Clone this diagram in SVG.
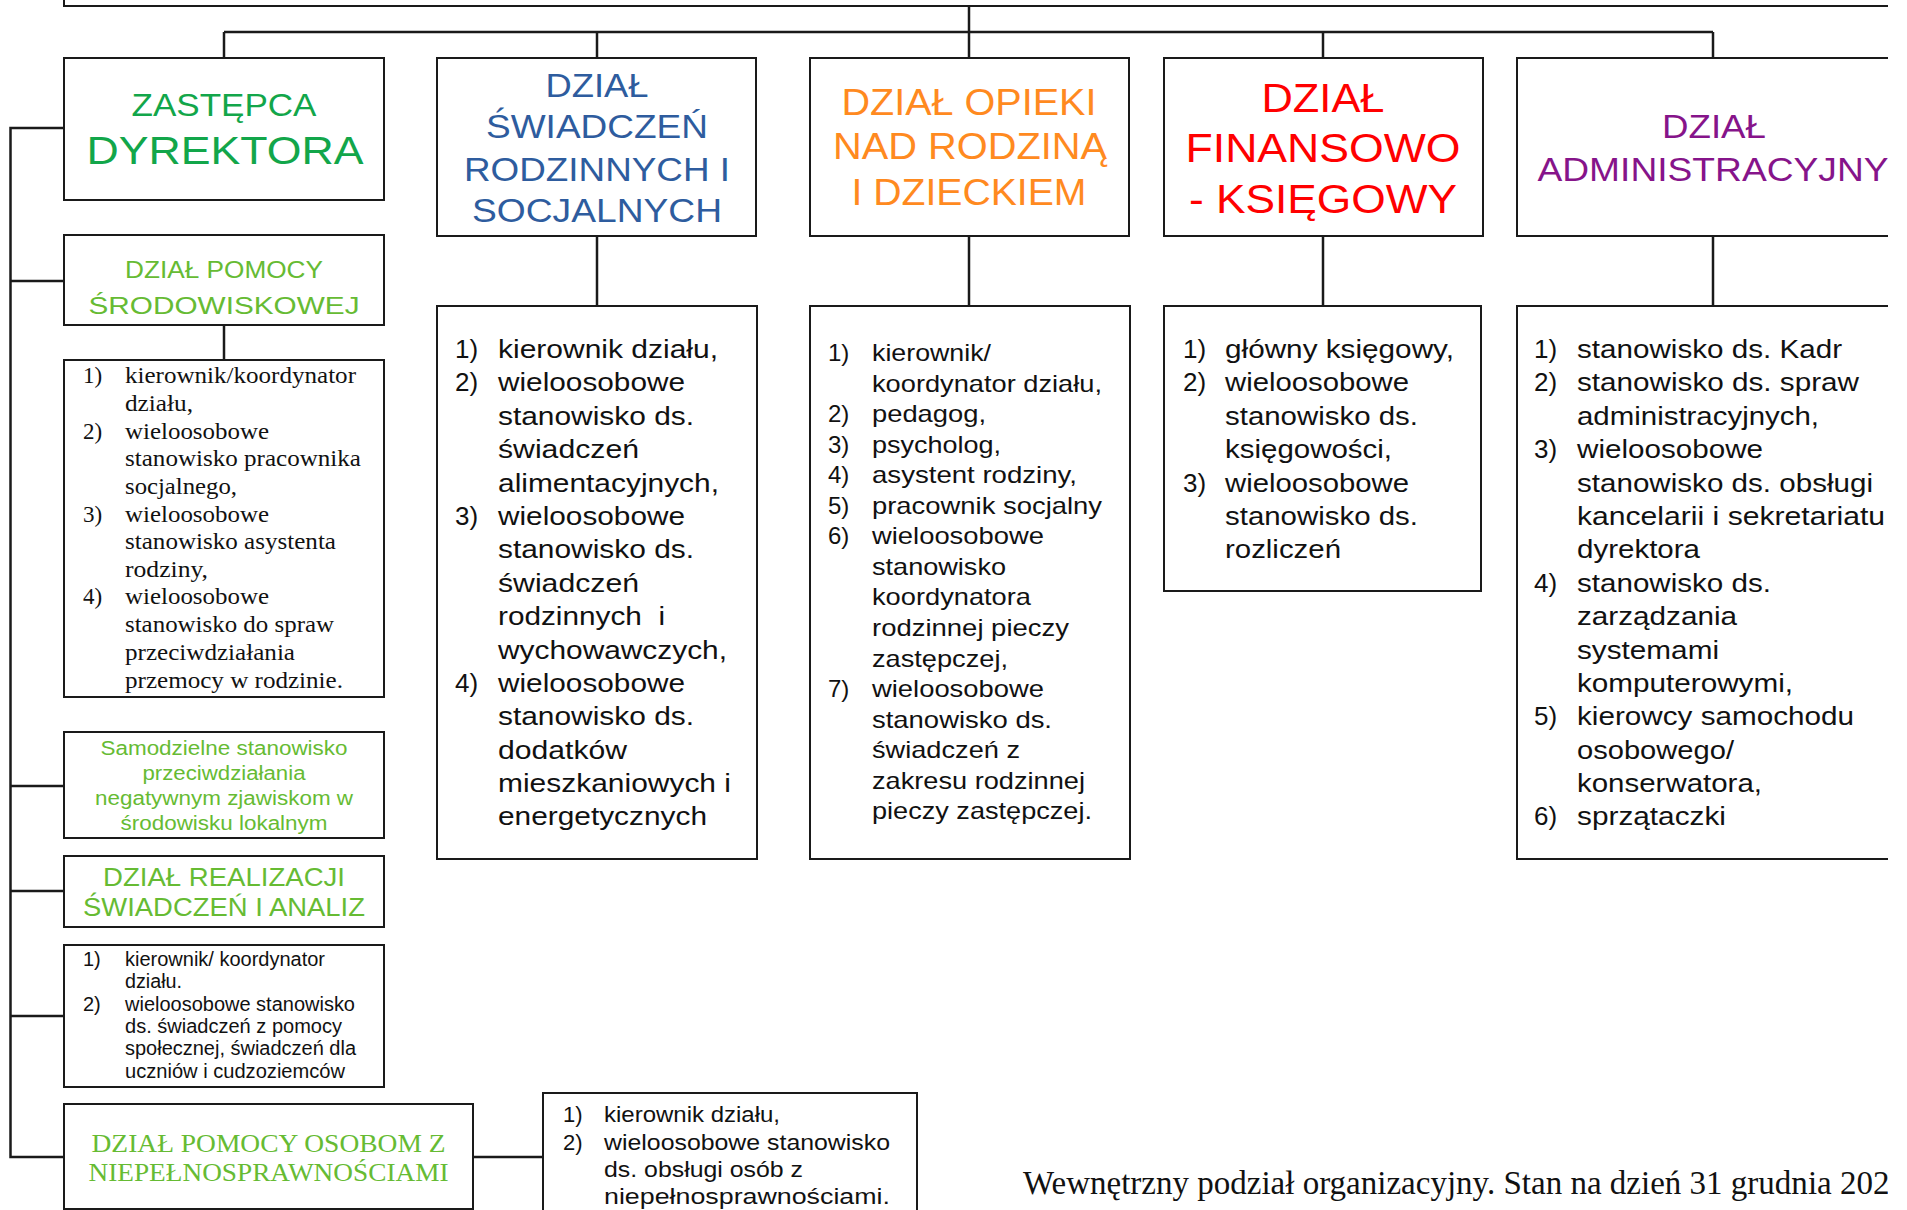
<svg xmlns="http://www.w3.org/2000/svg" width="1907" height="1210" viewBox="0 0 1907 1210">
<style>
.box{fill:#fff;stroke:#1a1a1a;stroke-width:2}
.ln{fill:none;stroke:#1a1a1a;stroke-width:2.5}
.s{font-family:"Liberation Sans",Arial,sans-serif}
.r{font-family:"Liberation Serif","Times New Roman",serif}
.c{text-anchor:middle}
.k{fill:#111}
.g1{fill:#12A64A}
.g2{fill:#66BB33}
.bl{fill:#2E5C9E}
.or{fill:#FF8A1F}
.rd{fill:#FF0000}
.pu{fill:#86148A}
.h34{font-size:34px}
.l26{font-size:26px}
.l24{font-size:24px}
.l23{font-size:23px}
.l22{font-size:22px}
.l20{font-size:20px}
</style>
<defs>
<clipPath id="page"><rect x="0" y="0" width="1888" height="1210"/></clipPath>
</defs>
<rect x="0" y="0" width="1907" height="1210" fill="#fff"/>
<g clip-path="url(#page)">
<g id="connectors">
<line class="ln" x1="969" y1="6" x2="969" y2="58"/>
<line class="ln" x1="224" y1="32" x2="1713" y2="32"/>
<line class="ln" x1="224" y1="32" x2="224" y2="58"/>
<line class="ln" x1="597" y1="32" x2="597" y2="58"/>
<line class="ln" x1="1323" y1="32" x2="1323" y2="58"/>
<line class="ln" x1="1713" y1="32" x2="1713" y2="58"/>
<line class="ln" x1="597" y1="236" x2="597" y2="306"/>
<line class="ln" x1="969" y1="236" x2="969" y2="306"/>
<line class="ln" x1="1323" y1="236" x2="1323" y2="306"/>
<line class="ln" x1="1713" y1="236" x2="1713" y2="306"/>
<line class="ln" x1="224" y1="325" x2="224" y2="360"/>
<polyline class="ln" points="64,128 10.5,128 10.5,1157 64,1157"/>
<line class="ln" x1="10.5" y1="281" x2="64" y2="281"/>
<line class="ln" x1="10.5" y1="786" x2="64" y2="786"/>
<line class="ln" x1="10.5" y1="891" x2="64" y2="891"/>
<line class="ln" x1="10.5" y1="1016" x2="64" y2="1016"/>
<line class="ln" x1="473" y1="1157" x2="543" y2="1157"/>
</g>

<g id="dyrektor">
<rect class="box" x="64" y="-60" width="1900" height="66"/>
</g>

<g id="zastepca">
<rect class="box" x="64" y="58" width="320" height="142"/>
<text class="s c g1" x="224" y="116" font-size="31" textLength="185" lengthAdjust="spacingAndGlyphs">ZASTĘPCA</text>
<text class="s c g1" x="225" y="164" font-size="39" textLength="277" lengthAdjust="spacingAndGlyphs">DYREKTORA</text>
</g>

<g id="dzial-swiadczen">
<rect class="box" x="437" y="58" width="319" height="178"/>
<text class="s c bl h34" x="597" y="97" textLength="103" lengthAdjust="spacingAndGlyphs">DZIAŁ</text>
<text class="s c bl h34" x="597" y="138" textLength="222" lengthAdjust="spacingAndGlyphs">ŚWIADCZEŃ</text>
<text class="s c bl h34" x="597" y="181" textLength="266" lengthAdjust="spacingAndGlyphs">RODZINNYCH I</text>
<text class="s c bl h34" x="597" y="222" textLength="250" lengthAdjust="spacingAndGlyphs">SOCJALNYCH</text>
</g>

<g id="dzial-opieki">
<rect class="box" x="810" y="58" width="319" height="178"/>
<text class="s c or" x="969" y="115" font-size="36" textLength="255" lengthAdjust="spacingAndGlyphs">DZIAŁ OPIEKI</text>
<text class="s c or" x="970" y="159" font-size="36" textLength="274" lengthAdjust="spacingAndGlyphs">NAD RODZINĄ</text>
<text class="s c or" x="969" y="205" font-size="36" textLength="235" lengthAdjust="spacingAndGlyphs">I DZIECKIEM</text>
</g>

<g id="dzial-finansowy">
<rect class="box" x="1164" y="58" width="319" height="178"/>
<text class="s c rd" x="1323" y="112" font-size="40" textLength="123" lengthAdjust="spacingAndGlyphs">DZIAŁ</text>
<text class="s c rd" x="1323" y="162" font-size="40" textLength="275" lengthAdjust="spacingAndGlyphs">FINANSOWO</text>
<text class="s c rd" x="1323" y="213" font-size="40" textLength="268" lengthAdjust="spacingAndGlyphs">- KSIĘGOWY</text>
</g>

<g id="dzial-administracyjny">
<rect class="box" x="1517" y="58" width="392" height="178"/>
<text class="s c pu h34" x="1714" y="138" textLength="104" lengthAdjust="spacingAndGlyphs">DZIAŁ</text>
<text class="s c pu h34" x="1713" y="181" textLength="351" lengthAdjust="spacingAndGlyphs">ADMINISTRACYJNY</text>
</g>

<g id="dzial-pomocy-srodowiskowej">
<rect class="box" x="64" y="235" width="320" height="90"/>
<text class="s c g2" x="224" y="278" font-size="24" textLength="198" lengthAdjust="spacingAndGlyphs">DZIAŁ POMOCY</text>
<text class="s c g2" x="224" y="314" font-size="24" textLength="271" lengthAdjust="spacingAndGlyphs">ŚRODOWISKOWEJ</text>
</g>

<g id="pomocy-srodowiskowej-stanowiska" class="r k l23">
<rect class="box" x="64" y="360" width="320" height="337"/>
<text x="83" y="383">1)</text><text x="125" y="383" textLength="231" lengthAdjust="spacingAndGlyphs">kierownik/koordynator</text>
<text x="125" y="411" textLength="68" lengthAdjust="spacingAndGlyphs">działu,</text>
<text x="83" y="439">2)</text><text x="125" y="439" textLength="144" lengthAdjust="spacingAndGlyphs">wieloosobowe</text>
<text x="125" y="466" textLength="236" lengthAdjust="spacingAndGlyphs">stanowisko pracownika</text>
<text x="125" y="494" textLength="112" lengthAdjust="spacingAndGlyphs">socjalnego,</text>
<text x="83" y="522">3)</text><text x="125" y="522" textLength="144" lengthAdjust="spacingAndGlyphs">wieloosobowe</text>
<text x="125" y="549" textLength="211" lengthAdjust="spacingAndGlyphs">stanowisko asystenta</text>
<text x="125" y="577" textLength="83" lengthAdjust="spacingAndGlyphs">rodziny,</text>
<text x="83" y="604">4)</text><text x="125" y="604" textLength="144" lengthAdjust="spacingAndGlyphs">wieloosobowe</text>
<text x="125" y="632" textLength="209" lengthAdjust="spacingAndGlyphs">stanowisko do spraw</text>
<text x="125" y="660" textLength="170" lengthAdjust="spacingAndGlyphs">przeciwdziałania</text>
<text x="125" y="688" textLength="218" lengthAdjust="spacingAndGlyphs">przemocy w rodzinie.</text>
</g>

<g id="samodzielne-stanowisko" class="s c g2 l20">
<rect class="box" x="64" y="732" width="320" height="106"/>
<text x="224" y="755" textLength="247" lengthAdjust="spacingAndGlyphs">Samodzielne stanowisko</text>
<text x="224" y="780" textLength="163" lengthAdjust="spacingAndGlyphs">przeciwdziałania</text>
<text x="224" y="805" textLength="258" lengthAdjust="spacingAndGlyphs">negatywnym zjawiskom w</text>
<text x="224" y="830" textLength="207" lengthAdjust="spacingAndGlyphs">środowisku lokalnym</text>
</g>

<g id="dzial-realizacji">
<rect class="box" x="64" y="856" width="320" height="71"/>
<text class="s c g2" x="224" y="886" font-size="26" textLength="242" lengthAdjust="spacingAndGlyphs">DZIAŁ REALIZACJI</text>
<text class="s c g2" x="224" y="916" font-size="26" textLength="282" lengthAdjust="spacingAndGlyphs">ŚWIADCZEŃ I ANALIZ</text>
</g>

<g id="realizacji-stanowiska" class="s k l20">
<rect class="box" x="64" y="945" width="320" height="142"/>
<text x="83" y="966">1)</text><text x="125" y="966" textLength="200" lengthAdjust="spacingAndGlyphs">kierownik/ koordynator</text>
<text x="125" y="988" textLength="57" lengthAdjust="spacingAndGlyphs">działu.</text>
<text x="83" y="1011">2)</text><text x="125" y="1011" textLength="230" lengthAdjust="spacingAndGlyphs">wieloosobowe stanowisko</text>
<text x="125" y="1033" textLength="217" lengthAdjust="spacingAndGlyphs">ds. świadczeń z pomocy</text>
<text x="125" y="1055" textLength="231" lengthAdjust="spacingAndGlyphs">społecznej, świadczeń dla</text>
<text x="125" y="1078" textLength="220" lengthAdjust="spacingAndGlyphs">uczniów i cudzoziemców</text>
</g>

<g id="dzial-pomocy-osobom">
<rect class="box" x="64" y="1104" width="409" height="105"/>
<text class="r c g2" x="268.5" y="1152" font-size="26" textLength="354" lengthAdjust="spacingAndGlyphs">DZIAŁ POMOCY OSOBOM Z</text>
<text class="r c g2" x="268.5" y="1181" font-size="26" textLength="360" lengthAdjust="spacingAndGlyphs">NIEPEŁNOSPRAWNOŚCIAMI</text>
</g>

<g id="pomocy-osobom-stanowiska" class="s k l22">
<rect class="box" x="543" y="1093" width="374" height="130"/>
<text x="563" y="1122">1)</text><text x="604" y="1122" textLength="176" lengthAdjust="spacingAndGlyphs">kierownik działu,</text>
<text x="563" y="1150">2)</text><text x="604" y="1150" textLength="286" lengthAdjust="spacingAndGlyphs">wieloosobowe stanowisko</text>
<text x="604" y="1177" textLength="199" lengthAdjust="spacingAndGlyphs">ds. obsługi osób z</text>
<text x="604" y="1204" textLength="286" lengthAdjust="spacingAndGlyphs">niepełnosprawnościami.</text>
</g>

<g id="swiadczen-stanowiska" class="s k l26">
<rect class="box" x="437" y="306" width="320" height="553"/>
<text x="455" y="358">1)</text><text x="498" y="358" textLength="220" lengthAdjust="spacingAndGlyphs">kierownik działu,</text>
<text x="455" y="391">2)</text><text x="498" y="391" textLength="187" lengthAdjust="spacingAndGlyphs">wieloosobowe</text>
<text x="498" y="425" textLength="196" lengthAdjust="spacingAndGlyphs">stanowisko ds.</text>
<text x="498" y="458" textLength="141" lengthAdjust="spacingAndGlyphs">świadczeń</text>
<text x="498" y="492" textLength="221" lengthAdjust="spacingAndGlyphs">alimentacyjnych,</text>
<text x="455" y="525">3)</text><text x="498" y="525" textLength="187" lengthAdjust="spacingAndGlyphs">wieloosobowe</text>
<text x="498" y="558" textLength="196" lengthAdjust="spacingAndGlyphs">stanowisko ds.</text>
<text x="498" y="592" textLength="141" lengthAdjust="spacingAndGlyphs">świadczeń</text>
<text x="498" y="625" textLength="167" lengthAdjust="spacingAndGlyphs" xml:space="preserve">rodzinnych  i</text>
<text x="498" y="659" textLength="229" lengthAdjust="spacingAndGlyphs">wychowawczych,</text>
<text x="455" y="692">4)</text><text x="498" y="692" textLength="187" lengthAdjust="spacingAndGlyphs">wieloosobowe</text>
<text x="498" y="725" textLength="196" lengthAdjust="spacingAndGlyphs">stanowisko ds.</text>
<text x="498" y="759" textLength="129" lengthAdjust="spacingAndGlyphs">dodatków</text>
<text x="498" y="792" textLength="233" lengthAdjust="spacingAndGlyphs">mieszkaniowych i</text>
<text x="498" y="825" textLength="209" lengthAdjust="spacingAndGlyphs">energetycznych</text>
</g>

<g id="opieki-stanowiska" class="s k l24">
<rect class="box" x="810" y="306" width="320" height="553"/>
<text x="828" y="361">1)</text><text x="872" y="361" textLength="119" lengthAdjust="spacingAndGlyphs">kierownik/</text>
<text x="872" y="392" textLength="230" lengthAdjust="spacingAndGlyphs">koordynator działu,</text>
<text x="828" y="422">2)</text><text x="872" y="422" textLength="114" lengthAdjust="spacingAndGlyphs">pedagog,</text>
<text x="828" y="453">3)</text><text x="872" y="453" textLength="129" lengthAdjust="spacingAndGlyphs">psycholog,</text>
<text x="828" y="483">4)</text><text x="872" y="483" textLength="205" lengthAdjust="spacingAndGlyphs">asystent rodziny,</text>
<text x="828" y="514">5)</text><text x="872" y="514" textLength="230" lengthAdjust="spacingAndGlyphs">pracownik socjalny</text>
<text x="828" y="544">6)</text><text x="872" y="544" textLength="172" lengthAdjust="spacingAndGlyphs">wieloosobowe</text>
<text x="872" y="575" textLength="134" lengthAdjust="spacingAndGlyphs">stanowisko</text>
<text x="872" y="605" textLength="159" lengthAdjust="spacingAndGlyphs">koordynatora</text>
<text x="872" y="636" textLength="197" lengthAdjust="spacingAndGlyphs">rodzinnej pieczy</text>
<text x="872" y="667" textLength="136" lengthAdjust="spacingAndGlyphs">zastępczej,</text>
<text x="828" y="697">7)</text><text x="872" y="697" textLength="172" lengthAdjust="spacingAndGlyphs">wieloosobowe</text>
<text x="872" y="728" textLength="180" lengthAdjust="spacingAndGlyphs">stanowisko ds.</text>
<text x="872" y="758" textLength="148" lengthAdjust="spacingAndGlyphs">świadczeń z</text>
<text x="872" y="789" textLength="213" lengthAdjust="spacingAndGlyphs">zakresu rodzinnej</text>
<text x="872" y="819" textLength="220" lengthAdjust="spacingAndGlyphs">pieczy zastępczej.</text>
</g>

<g id="finansowy-stanowiska" class="s k l26">
<rect class="box" x="1164" y="306" width="317" height="285"/>
<text x="1183" y="358">1)</text><text x="1225" y="358" textLength="229" lengthAdjust="spacingAndGlyphs">główny księgowy,</text>
<text x="1183" y="391">2)</text><text x="1225" y="391" textLength="184" lengthAdjust="spacingAndGlyphs">wieloosobowe</text>
<text x="1225" y="425" textLength="193" lengthAdjust="spacingAndGlyphs">stanowisko ds.</text>
<text x="1225" y="458" textLength="167" lengthAdjust="spacingAndGlyphs">księgowości,</text>
<text x="1183" y="492">3)</text><text x="1225" y="492" textLength="184" lengthAdjust="spacingAndGlyphs">wieloosobowe</text>
<text x="1225" y="525" textLength="193" lengthAdjust="spacingAndGlyphs">stanowisko ds.</text>
<text x="1225" y="558" textLength="116" lengthAdjust="spacingAndGlyphs">rozliczeń</text>
</g>

<g id="administracyjny-stanowiska" class="s k l26">
<rect class="box" x="1517" y="306" width="392" height="553"/>
<text x="1534" y="358">1)</text><text x="1577" y="358" textLength="265" lengthAdjust="spacingAndGlyphs">stanowisko ds. Kadr</text>
<text x="1534" y="391">2)</text><text x="1577" y="391" textLength="282" lengthAdjust="spacingAndGlyphs">stanowisko ds. spraw</text>
<text x="1577" y="425" textLength="242" lengthAdjust="spacingAndGlyphs">administracyjnych,</text>
<text x="1534" y="458">3)</text><text x="1577" y="458" textLength="186" lengthAdjust="spacingAndGlyphs">wieloosobowe</text>
<text x="1577" y="492" textLength="296" lengthAdjust="spacingAndGlyphs">stanowisko ds. obsługi</text>
<text x="1577" y="525" textLength="308" lengthAdjust="spacingAndGlyphs">kancelarii i sekretariatu</text>
<text x="1577" y="558" textLength="123" lengthAdjust="spacingAndGlyphs">dyrektora</text>
<text x="1534" y="592">4)</text><text x="1577" y="592" textLength="194" lengthAdjust="spacingAndGlyphs">stanowisko ds.</text>
<text x="1577" y="625" textLength="160" lengthAdjust="spacingAndGlyphs">zarządzania</text>
<text x="1577" y="659" textLength="142" lengthAdjust="spacingAndGlyphs">systemami</text>
<text x="1577" y="692" textLength="216" lengthAdjust="spacingAndGlyphs">komputerowymi,</text>
<text x="1534" y="725">5)</text><text x="1577" y="725" textLength="277" lengthAdjust="spacingAndGlyphs">kierowcy samochodu</text>
<text x="1577" y="759" textLength="157" lengthAdjust="spacingAndGlyphs">osobowego/</text>
<text x="1577" y="792" textLength="185" lengthAdjust="spacingAndGlyphs">konserwatora,</text>
<text x="1534" y="825">6)</text><text x="1577" y="825" textLength="149" lengthAdjust="spacingAndGlyphs">sprzątaczki</text>
</g>

<text id="podpis" class="r k" x="1023" y="1194" font-size="33" textLength="883" lengthAdjust="spacingAndGlyphs">Wewnętrzny podział organizacyjny. Stan na dzień 31 grudnia 2021</text>
</g>
</svg>
